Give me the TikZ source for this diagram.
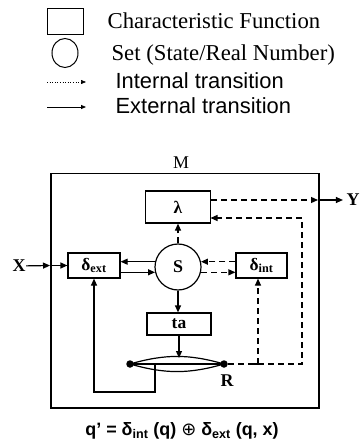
\documentclass[tikz,border=0pt]{standalone}
\usepackage{fontspec}
\setmainfont{Liberation Serif}
\setsansfont{Liberation Sans}
\newfontfamily\symfont{DejaVu Sans}
\usetikzlibrary{arrows.meta,shapes.geometric}
\tikzset{
  fbox/.style={draw, rectangle, inner sep=0pt, font=\fontsize{17.5}{19}\selectfont\bfseries},
  lbl/.style={font=\fontsize{18}{20}\selectfont\bfseries, inner sep=0pt},
  ext/.style={-{Triangle[length=7bp,width=6bp]}},
  int/.style={dash pattern=on 6bp off 4bp, -{Triangle[length=7bp,width=6bp]}},
  dot/.style={circle, fill, inner sep=0pt, minimum size=7.5bp},
  legs/.style={font=\fontsize{22.8}{24}\selectfont, inner sep=0pt, anchor=base west},
  legsf/.style={font=\sffamily\fontsize{22}{24}\selectfont, inner sep=0pt, anchor=base west},
}
\begin{document}
\begin{tikzpicture}[x=1bp,y=-1bp,line width=1.2bp]
\useasboundingbox (0,0) rectangle (361,442);

% legend
\node[draw, line width=1bp, minimum width=36bp, minimum height=26bp, inner sep=0pt] (lsq) at (65,22) {};
\node[draw, line width=1bp, ellipse, minimum width=26bp, minimum height=29bp, inner sep=0pt] (lci) at (65,53) {};
\coordinate (li1) at (47,82);
\coordinate (li2) at (86,82);
\draw[dotted, line width=0.6bp, -{Triangle[length=5bp,width=4bp]}] (li1) -- (li2);
\coordinate (le1) at (47,107);
\coordinate (le2) at (86,107);
\draw[line width=0.8bp, -{Triangle[length=5bp,width=4bp]}] (le1) -- (le2);
\node[legs] (t1) at (107,29) {Characteristic Function};
\node[legs] (t2) at (111,61) {Set (State/Real Number)};
\node[legsf] (t3) at (115,89) {Internal transition};
\node[legsf] (t4) at (115,114) {External transition};

% outer model box
\node[draw, line width=1.5bp, minimum width=268bp, minimum height=234bp, inner sep=0pt, anchor=north west] (M) at (50,173) {};
\node[font=\fontsize{18}{20}\selectfont, inner sep=0pt] (Mlab) at (181,163) {M};

% components
\node[fbox, minimum width=65bp, minimum height=32bp] (lam) at (178,207) {λ};
\node[draw, circle, minimum size=46bp, lbl] (S) at (178,267) {S};
\node[fbox, minimum width=52bp, minimum height=25bp] (dext) at (94,265.5) {δ\textsubscript{ext}};
\node[fbox, minimum width=51bp, minimum height=25bp] (dint) at (261.5,265.5) {δ\textsubscript{int}};
\node[fbox, minimum width=64bp, minimum height=22bp] (ta) at (179,324) {ta};

% R lens
\coordinate (Rlc) at (130,364);
\coordinate (Rrc) at (224,364);
\draw (Rlc) to[bend left=16] (Rrc) to[bend left=16] (Rlc);
\draw (Rlc) -- (Rrc);
\node[dot] (Rl) at (Rlc) {};
\node[dot] (Rr) at (Rrc) {};
\node[lbl] (Rlab) at (227,381) {R};
\coordinate (Rtop) at (179,358);

% connectors
\coordinate (xin) at (M.west |- dext.center);
\node[lbl] (X) at (19,266) {X};
\draw[ext] (X) -- (xin);
\draw[ext] (xin) -- (dext.west);

\draw[ext] (S.167) -- (S.167 -| dext.east);
\draw[ext] (S.193 -| dext.east) -- (S.193);
\draw[int] (S.13 -| dint.west) -- (S.13);
\draw[int] (S.-13) -- (S.-13 -| dint.west);

\draw[int] (S.north) -- (lam.south);
\draw[ext] (S.south) -- (S.south |- ta.north);
\draw[ext] (ta.south) -- (Rtop);

\coordinate (yout) at (318,200);
\node[lbl] (Y) at (353,200) {Y};
\draw[int] (lam.east |- yout) -- (yout);
\draw[ext] (yout) -- ([xshift=-3bp]Y.west);

\coordinate (rc) at (302,364);
\coordinate (lin) at (210.5,218);
\draw[int] (Rr.east) -- (rc) |- (lin);

\coordinate (tk) at (258,364);
\draw[int] (tk) -- (tk |- dint.south);
\draw (tk) +(-4,0) -- +(4,0);

\coordinate (Rfb) at (155,364);
\coordinate (fbc) at (155,392);
\draw[ext] (Rfb) -- (fbc) -| (dext.south);

% formula
\node[font=\sffamily\bfseries\fontsize{18}{20}\selectfont, inner sep=0pt] (F) at (182,431) {q’ = δ\textsubscript{int} (q) {\symfont\mdseries ⊕} δ\textsubscript{ext} (q, x)};
\end{tikzpicture}
\end{document}
